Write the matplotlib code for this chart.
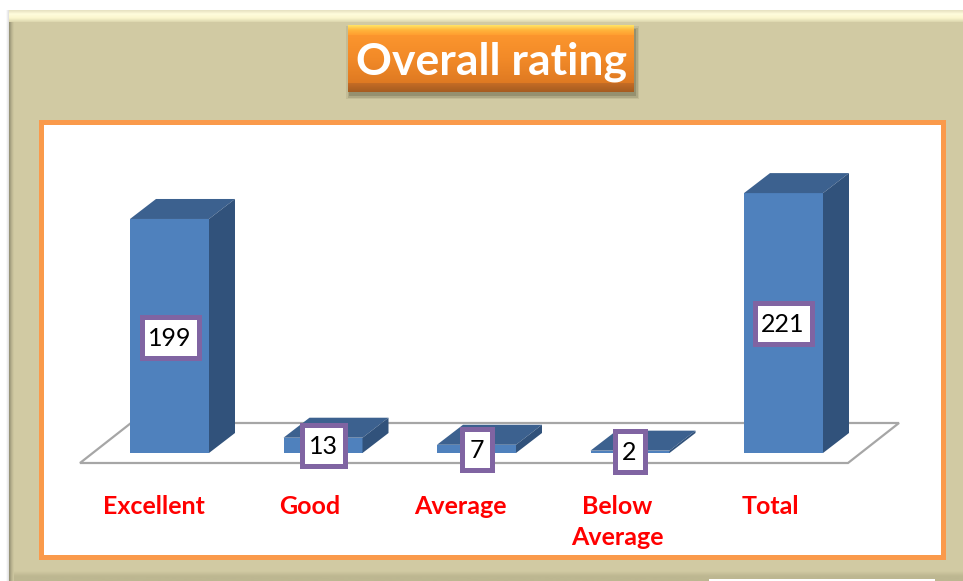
import numpy as np
import matplotlib
matplotlib.use("Agg")
import matplotlib.pyplot as plt
from matplotlib.colors import LinearSegmentedColormap
from matplotlib.patches import Polygon, Rectangle, FancyBboxPatch

categories = ["Excellent", "Good", "Average", "Below\nAverage", "Total"]
ratings = [199, 13, 7, 2, 221]

W, H = 963, 581
PX_PER_CAT = 153.5
PX_PER_VAL = 1.176
BASE_X, BASE_Y = 169.5, 453
BAR_W = 79 / PX_PER_CAT
DX = 26 / PX_PER_CAT
DY = 20 / PX_PER_VAL

plt.rcParams["font.family"] = ["Lato", "DejaVu Sans"]
fig = plt.figure(figsize=(W / 100, H / 100), dpi=100, facecolor="white")

# page background, pixel coordinates
bg = fig.add_axes([0, 0, 1, 1], zorder=0)
bg.axis("off")


def grad(ax, box, colors, z=1, horizontal=False):
    x0, x1, y0, y1 = box
    cm = LinearSegmentedColormap.from_list("g", colors)
    arr = np.linspace(0, 1, 64).reshape(1, -1) if horizontal else np.linspace(0, 1, 64).reshape(-1, 1)
    ax.imshow(arr, cmap=cm, aspect="auto", extent=(x0, x1, y1, y0), zorder=z,
              interpolation="bilinear")


bg.add_patch(Rectangle((9, 10), W - 9, H - 10, fc="#D1CAA3", ec="none", zorder=1))
grad(bg, (9, W, 571, H), ["#D1CAA3", "#BDB791", "#BDB791"], 2)
grad(bg, (9, 14, 10, H), ["#8E8A70", "#B8B28E", "#D1CAA3"], 3, horizontal=True)
grad(bg, (6, 9, 10, H), ["#FFFFFF", "#DDDDDD"], 3, horizontal=True)
grad(bg, (9, W, 10, 22), ["#E6E0C0", "#FFFCDC", "#FBF6CE", "#DCD6AE"], 4)
bg.add_patch(Rectangle((709, 579), 226, 2, fc="white", ec="none", zorder=4))

# inner frame
bg.add_patch(Rectangle((41, 122), 901.5, 434.7, fc="white", ec="#FA9A4B", lw=3.6, zorder=3))

# title box with soft shadow
for grow, alpha in [(4, 0.12), (2.5, 0.2), (1, 0.3)]:
    bg.add_patch(Rectangle((350 - grow, 30 - grow), 285 + 2 * grow, 65 + 2 * grow,
                           fc="#5E5A40", ec="none", alpha=alpha, zorder=3))
grad(bg, (348, 634, 25, 92), ["#FF9A30", "#F28A28", "#D87420"], 4)
grad(bg, (348, 634, 25, 35), ["#FFE566", "#FFB53C", "#FF9E30"], 5)
grad(bg, (348, 634, 83, 92), ["#C56C25", "#A55C20"], 5)
bg.set_xlim(0, W)
bg.set_ylim(H, 0)
bg.text(491, 62, "Overall rating", color="white", fontsize=32, fontweight="bold",
        ha="center", va="center", zorder=6)

# floor of the 3d plot
bg.add_patch(Polygon([(80, 463), (848, 463), (899, 423), (131, 423)], closed=True,
                     fc="white", ec="#A6A6A6", lw=1.6, zorder=5))

# chart axes, same area as the figure, values on y
ax = fig.add_axes([0, 0, 1, 1], zorder=1)
ax.set_xlim(-BASE_X / PX_PER_CAT, (W - BASE_X) / PX_PER_CAT)
ax.set_ylim((BASE_Y - H) / PX_PER_VAL, BASE_Y / PX_PER_VAL)
ax.axis("off")
ax.patch.set_alpha(0)


def to_data(px, py):
    return ax.transData.inverted().transform((px, H - py))


xs = np.arange(len(ratings))
for i, v in zip(xs, ratings):
    l, r = i - BAR_W / 2, i + BAR_W / 2
    ax.bar(i, v, width=BAR_W, color="#4F81BD", zorder=2)
    ax.add_patch(Polygon([(l, v), (r, v), (r + DX, v + DY), (l + DX, v + DY)],
                         fc="#3C618F", ec="none", zorder=2))
    ax.add_patch(Polygon([(r, 0), (r, v), (r + DX, v + DY), (r + DX, DY)],
                         fc="#31527B", ec="none", zorder=2))

# value labels, outer box size in px
label_w = [62, 48, 35, 35, 62]
label_x = [170, 323, 477, 629.5, 783]
label_y = [337, 445, 449, 451.5, 323]
for v, w, px, py in zip(ratings, label_w, label_x, label_y):
    x, y = to_data(px, py + 1.5)
    xa, ya = to_data(px - w / 2 + 2.5, py + 20.5)
    xb, yb = to_data(px + w / 2 - 2.5, py - 20.5)
    ax.add_patch(FancyBboxPatch((xa, ya), xb - xa, yb - ya, boxstyle="square,pad=0",
                                fc="white", ec="#8064A2", lw=3.6, zorder=3))
    ax.text(x, y, str(v), color="black", fontsize=18, ha="center", va="center", zorder=4)

# category labels
label_px = [153.5, 310, 460.5, 617, 770]
for name, px in zip(categories, label_px):
    x, y = to_data(px, 495)
    ax.text(x, y, name, color="#FF0000", fontsize=18, fontweight="bold",
            ha="center", va="top", linespacing=1.4, zorder=4)

fig.savefig("out.png", dpi=100)
